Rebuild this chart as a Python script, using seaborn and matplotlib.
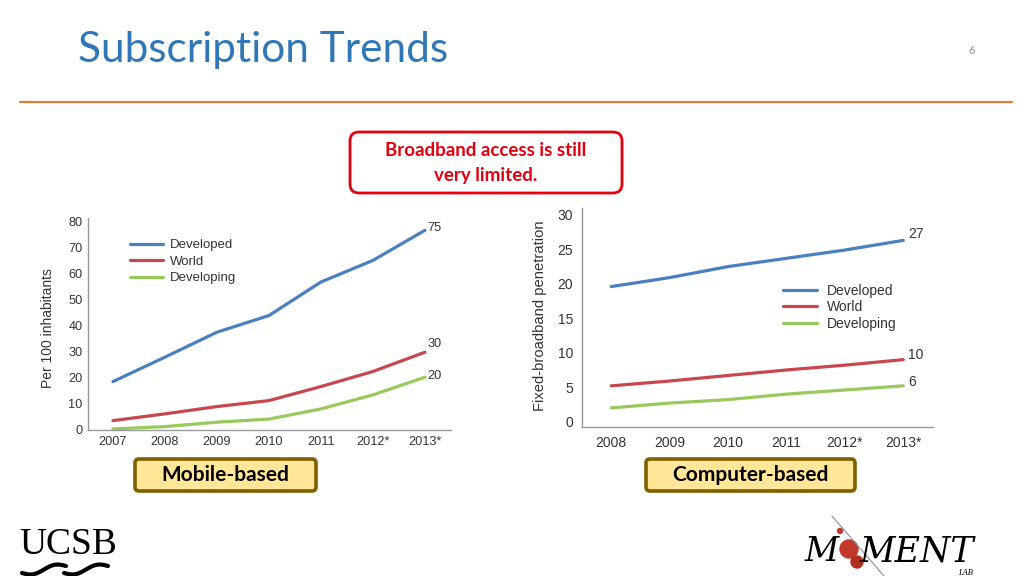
import matplotlib.pyplot as plt
import matplotlib.patches as mpatches
import numpy as np
import pandas as pd
import seaborn as sns

# Mobile-based broadband, per 100 inhabitants
mobile_years = [2007, 2008, 2009, 2010, 2011, 2012, 2013]
mobile_ticks = ['2007', '2008', '2009', '2010', '2011', '2012*', '2013*']
mobile_developed = [18.6, 28.0, 37.6, 44.0, 56.9, 65.2, 76.8]
mobile_world = [3.6, 6.2, 9.0, 11.3, 16.7, 22.5, 29.9]
mobile_developing = [0.4, 1.3, 3.0, 4.2, 8.1, 13.5, 20.3]
mobile_end = ['75', '30', '20']

# Fixed (computer-based) broadband penetration
fixed_years = [2008, 2009, 2010, 2011, 2012, 2013]
fixed_ticks = ['2008', '2009', '2010', '2011', '2012*', '2013*']
fixed_developed = [19.6, 20.9, 22.5, 23.7, 24.9, 26.3]
fixed_world = [5.2, 5.9, 6.7, 7.5, 8.2, 9.0]
fixed_developing = [2.0, 2.7, 3.2, 4.0, 4.6, 5.2]
fixed_end = ['27', '10', '6']

series = ['Developed', 'World', 'Developing']
palette = {'Developed': '#4a80bf', 'World': '#c8474f', 'Developing': '#99c95a'}


def to_long(years, *vals):
    return pd.DataFrame({
        'year': years * len(vals),
        'value': [v for vs in vals for v in vs],
        'series': np.repeat(series, len(years)),
    })


df_mobile = to_long(mobile_years, mobile_developed, mobile_world, mobile_developing)
df_fixed = to_long(fixed_years, fixed_developed, fixed_world, fixed_developing)

sns.set_theme(style='white')
plt.rcParams['font.family'] = ['Liberation Sans', 'DejaVu Sans']
slide_font = ['Lato', 'DejaVu Sans']
serif = ['Liberation Serif', 'DejaVu Serif']

fig = plt.figure(figsize=(10.24, 5.76), dpi=100)
fig.patch.set_facecolor('white')

# slide decoration layer in pixel coordinates
deco = fig.add_axes([0, 0, 1, 1])
deco.set_xlim(0, 1024)
deco.set_ylim(576, 0)
deco.axis('off')
deco.set_zorder(-1)

deco.text(78, 50, 'Subscription Trends', fontsize=30.5, color='#3077b8',
          family=slide_font, va='center')
deco.text(972, 50, '6', fontsize=8, color='#8c8c8c', va='center', ha='center',
          family=slide_font)
deco.plot([20, 1012], [102, 102], color='#e07b39', lw=1.6)

deco.add_patch(mpatches.FancyBboxPatch((350, 132), 272, 61,
               boxstyle='round,pad=0,rounding_size=9', fc='white', ec='#e3000f', lw=2))
deco.text(486, 151, 'Broadband access is still', color='#e3000f', fontsize=13.5,
          weight='bold', ha='center', va='center', family=slide_font)
deco.text(486, 176, 'very limited.', color='#e3000f', fontsize=13.5,
          weight='bold', ha='center', va='center', family=slide_font)

for x0, x1, label in [(135, 316, 'Mobile-based'), (646, 855, 'Computer-based')]:
    deco.add_patch(mpatches.FancyBboxPatch((x0, 459), x1 - x0, 32,
                   boxstyle='round,pad=0,rounding_size=4', fc='#ffe699', ec='#7f6000', lw=2.6))
    deco.text((x0 + x1) / 2, 475, label, fontsize=15, weight='bold', color='black',
              ha='center', va='center', family=slide_font)

# UCSB logo
deco.text(68, 545, 'UCSB', family=serif, fontsize=27, ha='center', va='center', color='black')
t = np.linspace(0, 1, 40)
for off in [0, 42]:
    deco.plot(22 + off + 44 * t, 573 - 7 * t + 3 * np.sin(2 * np.pi * t), color='black', lw=3,
              solid_capstyle='round')

# MOMENT LAB logo
deco.plot([832, 884], [516, 576], color='#8a8a9a', lw=0.8)
deco.text(822, 561, 'M', family=['DejaVu Serif'], style='italic',
          fontsize=24, ha='center', va='baseline', color='black')
deco.add_patch(mpatches.Circle((849, 549), 9, color='#c0392b'))
deco.add_patch(mpatches.Circle((857, 562), 6, color='#b03020'))
deco.add_patch(mpatches.Circle((840, 531), 2.5, color='#c0392b'))
deco.text(860, 561, 'MENT', family=['DejaVu Serif'], style='italic',
          fontsize=25, ha='left', va='baseline', color='black')
deco.text(966, 577, 'LAB', family=serif, style='italic',
          fontsize=6, ha='center', va='bottom', color='black')


def draw_chart(ax, df, years, ticks, ends, end_offsets, ylabel, yticks, tick_size, pad, label_size):
    sns.lineplot(data=df, x='year', y='value', hue='series', hue_order=series,
                 palette=palette, linewidth=2.3, ax=ax)
    for s, lab, off in zip(series, ends, end_offsets):
        last = df[df['series'] == s].iloc[-1]
        ax.annotate(lab, (last['year'], last['value']), xytext=off, textcoords='offset points',
                    fontsize=tick_size, color='#333333', va='center', ha='left')
    ax.set_xticks(years)
    ax.set_xticklabels(ticks)
    ax.set_yticks(yticks)
    ax.set_xlabel('')
    ax.set_ylabel(ylabel, fontsize=label_size, color='#333333')
    ax.tick_params(length=0, labelsize=tick_size, colors='#333333', pad=pad)
    for side in ['top', 'right']:
        ax.spines[side].set_visible(False)
    for side in ['left', 'bottom']:
        ax.spines[side].set_color('#9a9a9a')
        ax.spines[side].set_linewidth(1)
    ax.set_facecolor('white')


ax1 = fig.add_axes([0.0859, 0.2535, 0.3545, 0.368])
draw_chart(ax1, df_mobile, mobile_years, mobile_ticks, mobile_end,
           [(2, 1.5), (2, 5.8), (2, 0.5)], 'Per 100 inhabitants', range(0, 81, 10), 9.2, 4, 10)
ax1.set_xlim(2006.52, 2013.5)
ax1.set_ylim(0, 81.5)
ax1.yaxis.set_label_coords(-0.091, 0.48)
h, l = ax1.get_legend_handles_labels()
ax1.legend(h, l, loc='upper left', bbox_to_anchor=(0.116, 0.9), frameon=False,
           fontsize=9.5, handlelength=2.5, handletextpad=0.55, labelspacing=0.32,
           borderpad=0, borderaxespad=0, labelcolor='#333333')

ax2 = fig.add_axes([0.5684, 0.2587, 0.3428, 0.3802])
draw_chart(ax2, df_fixed, fixed_years, fixed_ticks, fixed_end,
           [(3.6, 4.3), (3.6, 3.6), (3.6, 2.9)], 'Fixed-broadband penetration',
           range(0, 31, 5), 10, 6.5, 10.6)
ax2.set_xlim(2007.5, 2013.51)
ax2.set_ylim(-0.77, 31)
ax2.yaxis.set_label_coords(-0.0997, 0.51)
h, l = ax2.get_legend_handles_labels()
ax2.legend(h, l, loc='upper left', bbox_to_anchor=(0.573, 0.655), frameon=False,
           fontsize=10, handlelength=2.45, handletextpad=0.72, labelspacing=0.2,
           borderpad=0, borderaxespad=0, labelcolor='#333333')

fig.savefig('out.png', dpi=100, facecolor='white')
